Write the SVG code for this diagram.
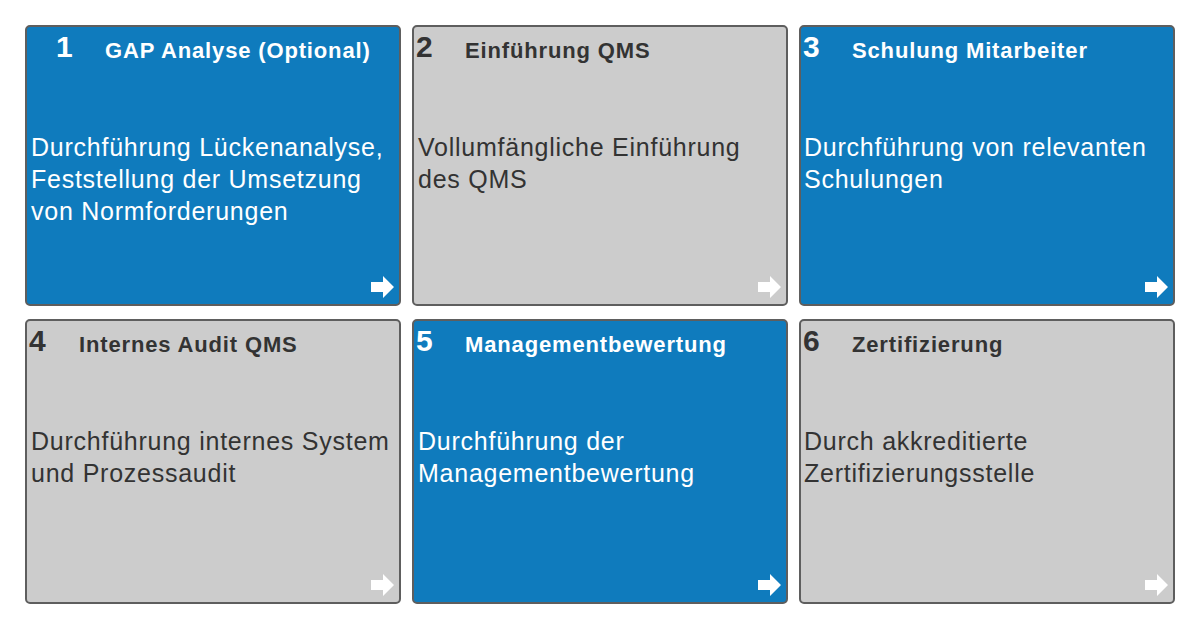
<svg xmlns="http://www.w3.org/2000/svg" width="1200" height="629" viewBox="0 0 1200 629">
<defs>
<style>
.box{stroke:#5e5e5e;stroke-width:2}
.blue{fill:#0f7bbd}
.gray{fill:#cccccc}
.num{font-family:"Liberation Sans",Arial,sans-serif;font-weight:bold;font-size:30px}
.ttl{font-family:"Liberation Sans",Arial,sans-serif;font-weight:bold;font-size:22px;letter-spacing:0.85px}
.body{font-family:"Liberation Sans",Arial,sans-serif;font-size:25px;letter-spacing:0.75px}
.w{fill:#ffffff}
.d{fill:#333333}
.arr{fill:#ffffff}
</style>
<path id="arrow" d="M0,0 L-11,-11 L-11,-5 L-23,-5 L-23,5 L-11,5 L-11,11 Z"/>
</defs>
<rect width="1200" height="629" fill="#ffffff"/>
<g id="node1">
<rect class="box blue" x="26" y="26" width="374" height="279" rx="4"/>
<text class="num w" x="56" y="57">1</text>
<text class="ttl w" x="105" y="58">GAP Analyse (Optional)</text>
<text class="body w" x="31" y="156">Durchführung Lückenanalyse,</text>
<text class="body w" x="31" y="188">Feststellung der Umsetzung</text>
<text class="body w" x="31" y="220">von Normforderungen</text>
<use href="#arrow" class="arr" x="394" y="287"/>
</g>
<g id="node2">
<rect class="box gray" x="413" y="26" width="374" height="279" rx="4"/>
<text class="num d" x="416" y="57">2</text>
<text class="ttl d" x="465" y="58">Einführung QMS</text>
<text class="body d" x="418" y="156">Vollumfängliche Einführung</text>
<text class="body d" x="418" y="188">des QMS</text>
<use href="#arrow" class="arr" x="781" y="287"/>
</g>
<g id="node3">
<rect class="box blue" x="800" y="26" width="374" height="279" rx="4"/>
<text class="num w" x="803" y="57">3</text>
<text class="ttl w" x="852" y="58">Schulung Mitarbeiter</text>
<text class="body w" x="804" y="156">Durchführung von relevanten</text>
<text class="body w" x="804" y="188">Schulungen</text>
<use href="#arrow" class="arr" x="1168" y="287"/>
</g>
<g id="node4">
<rect class="box gray" x="26" y="320" width="374" height="283" rx="4"/>
<text class="num d" x="29" y="351">4</text>
<text class="ttl d" x="79" y="352">Internes Audit QMS</text>
<text class="body d" x="31" y="450">Durchführung internes System</text>
<text class="body d" x="31" y="482">und Prozessaudit</text>
<use href="#arrow" class="arr" x="394" y="585"/>
</g>
<g id="node5">
<rect class="box blue" x="413" y="320" width="374" height="283" rx="4"/>
<text class="num w" x="416" y="351">5</text>
<text class="ttl w" x="465" y="352">Managementbewertung</text>
<text class="body w" x="418" y="450">Durchführung der</text>
<text class="body w" x="418" y="482">Managementbewertung</text>
<use href="#arrow" class="arr" x="781" y="585"/>
</g>
<g id="node6">
<rect class="box gray" x="800" y="320" width="374" height="283" rx="4"/>
<text class="num d" x="803" y="351">6</text>
<text class="ttl d" x="852" y="352">Zertifizierung</text>
<text class="body d" x="804" y="450">Durch akkreditierte</text>
<text class="body d" x="804" y="482">Zertifizierungsstelle</text>
<use href="#arrow" class="arr" x="1168" y="585"/>
</g>
<g id="connectors"/>
</svg>
